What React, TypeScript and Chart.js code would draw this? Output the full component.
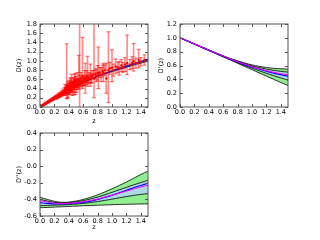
import React, { useEffect, useRef } from 'react';
import { Chart, registerables } from 'chart.js';
Chart.register(...registerables);
Chart.defaults.font.family = "'DejaVu Sans', sans-serif";

// ---- observed D(z) points with error bars ----
const zObs = [0.01,0.02,0.03,0.04,0.05,0.06,0.07,0.08,0.09,0.10,0.11,0.12,0.13,0.14,0.15,0.16,0.17,0.18,0.19,0.20,0.21,0.22,0.23,0.24,0.25,0.26,0.27,0.28,0.29,0.30,
  0.31,0.32,0.33,0.34,0.35,0.35,0.36,0.37,0.37,0.38,0.38,0.39,0.39,0.40,0.40,0.41,0.41,0.42,0.42,0.43,0.43,0.44,0.44,0.45,0.45,0.46,0.47,0.47,0.48,0.48,
  0.49,0.50,0.50,0.51,0.52,0.52,0.53,0.54,0.55,0.55,0.56,0.57,0.58,0.59,0.60,0.61,0.62,0.63,0.64,0.65,0.66,0.67,0.68,0.70,0.71,0.72,0.74,0.75,0.77,0.78,
  0.80,0.81,0.83,0.85,0.87,0.88,0.90,0.92,0.95,0.97,1.00,1.02,1.05,1.08,1.10,1.13,1.15,1.18,1.21,1.25,1.28,1.30,1.33,1.37,1.40,1.45];
const dObs = [0.010,0.020,0.028,0.040,0.048,0.058,0.070,0.078,0.088,0.098,0.108,0.118,0.125,0.138,0.145,0.158,0.163,0.178,0.180,0.195,0.200,0.215,0.210,0.228,0.238,0.255,0.245,0.268,0.275,0.300,
  0.285,0.330,0.300,0.360,0.310,0.400,0.340,0.450,0.380,0.300,0.420,0.360,0.470,0.400,0.330,0.450,0.380,0.520,0.360,0.420,0.480,0.400,0.550,0.440,0.380,0.500,0.450,0.540,0.420,0.580,
  0.500,0.470,0.550,0.440,0.520,0.600,0.480,0.560,0.500,0.580,0.520,0.620,0.550,0.660,0.580,0.540,0.630,0.600,0.580,0.660,0.620,0.600,0.640,0.680,0.620,0.660,0.700,0.620,0.720,0.680,
  0.740,0.720,0.750,0.700,0.780,0.740,0.800,0.620,0.800,0.840,0.850,0.800,0.880,0.860,0.840,0.900,0.860,0.920,0.950,0.920,0.960,1.000,0.950,1.020,0.980,1.020];
const dLow = [0.005,0.012,0.020,0.030,0.038,0.046,0.058,0.064,0.072,0.082,0.090,0.100,0.105,0.118,0.123,0.136,0.140,0.150,0.155,0.165,0.170,0.180,0.175,0.190,0.200,0.210,0.205,0.220,0.230,0.250,
  0.240,0.270,0.250,0.290,0.250,0.310,0.270,0.180,0.300,0.190,0.350,0.200,0.380,0.290,0.270,0.320,0.310,0.410,0.270,0.350,0.330,0.320,0.390,0.340,0.250,0.410,0.260,0.460,0.310,0.450,
  0.270,0.380,0.440,0.310,0.420,0.450,0.390,0.380,0.000,0.470,0.430,0.490,0.450,0.400,0.470,0.460,0.470,0.300,0.490,0.530,0.450,0.500,0.530,0.450,0.510,0.530,0.610,0.200,0.610,0.550,
  0.580,0.400,0.640,0.550,0.650,0.550,0.690,0.300,0.100,0.710,0.550,0.670,0.720,0.750,0.690,0.770,0.750,0.770,0.700,0.810,0.830,0.780,0.840,0.850,0.890,0.910];
const dHigh = [0.015,0.028,0.036,0.050,0.058,0.070,0.082,0.092,0.104,0.114,0.126,0.136,0.145,0.158,0.167,0.180,0.186,0.206,0.205,0.225,0.230,0.250,0.245,0.266,0.276,0.300,0.285,0.316,0.320,0.350,
  0.330,0.390,0.350,0.430,0.370,0.490,0.410,1.370,0.460,0.410,0.490,0.520,0.560,0.510,0.390,0.580,0.450,0.630,0.450,0.490,0.630,0.480,0.710,0.540,0.510,0.590,0.640,0.620,0.530,0.710,
  0.730,0.560,0.660,0.570,0.620,0.750,0.570,1.120,1.900,0.690,0.610,0.750,0.650,1.510,0.690,0.620,0.790,0.950,0.670,0.790,1.100,0.700,0.750,0.930,0.730,0.790,0.790,1.900,0.830,0.810,
  0.900,1.300,0.860,0.850,0.910,0.950,0.910,0.950,1.630,0.970,1.240,0.930,1.040,0.970,0.990,1.030,0.970,1.070,1.560,1.030,1.090,1.380,1.060,1.250,1.070,1.130];

// ---- reconstructed curves on a z grid ----
const zGrid = [0,0.1,0.2,0.3,0.4,0.5,0.6,0.7,0.8,0.9,1.0,1.1,1.2,1.3,1.4,1.5];
const dMean = [0,0.098,0.193,0.284,0.37,0.452,0.53,0.603,0.67,0.725,0.78,0.83,0.88,0.93,0.975,1.02];
const dHi = [0,0.098,0.194,0.285,0.372,0.454,0.533,0.607,0.675,0.731,0.788,0.84,0.892,0.944,0.992,1.04];
const dLo = [0,0.098,0.192,0.282,0.367,0.448,0.525,0.597,0.662,0.715,0.768,0.815,0.862,0.909,0.95,0.99];

const d1Mean = [1.0,0.956,0.911,0.866,0.821,0.777,0.733,0.691,0.65,0.61,0.58,0.548,0.518,0.49,0.467,0.447];
const d1True = [1.0,0.957,0.913,0.868,0.823,0.779,0.736,0.694,0.654,0.617,0.583,0.553,0.526,0.502,0.482,0.466];
const d1OutHi = [1.0,0.958,0.914,0.87,0.826,0.783,0.741,0.702,0.668,0.636,0.609,0.588,0.572,0.56,0.552,0.548];
const d1OutLo = [1.0,0.954,0.908,0.862,0.816,0.77,0.724,0.679,0.632,0.585,0.54,0.493,0.447,0.40,0.355,0.31];
const d1InHi = [1.0,0.957,0.912,0.868,0.824,0.78,0.737,0.696,0.66,0.625,0.595,0.57,0.548,0.53,0.515,0.505];
const d1InLo = [1.0,0.955,0.910,0.864,0.818,0.774,0.729,0.686,0.642,0.60,0.562,0.524,0.488,0.453,0.42,0.388];

const d2Mean = [-0.44,-0.448,-0.453,-0.455,-0.452,-0.444,-0.435,-0.42,-0.40,-0.375,-0.35,-0.32,-0.29,-0.26,-0.232,-0.205];
const d2True = [-0.415,-0.432,-0.445,-0.45,-0.448,-0.44,-0.428,-0.413,-0.395,-0.373,-0.35,-0.325,-0.30,-0.275,-0.25,-0.23];
const d2OutHi = [-0.375,-0.40,-0.422,-0.435,-0.432,-0.42,-0.40,-0.375,-0.345,-0.31,-0.272,-0.232,-0.19,-0.145,-0.10,-0.06];
const d2OutLo = [-0.50,-0.497,-0.493,-0.489,-0.485,-0.481,-0.477,-0.473,-0.47,-0.467,-0.464,-0.461,-0.459,-0.457,-0.455,-0.454];
const d2InHi = [-0.40,-0.42,-0.436,-0.443,-0.44,-0.43,-0.415,-0.395,-0.372,-0.345,-0.315,-0.285,-0.255,-0.225,-0.197,-0.17];
const d2InLo = [-0.475,-0.472,-0.469,-0.466,-0.462,-0.456,-0.448,-0.438,-0.426,-0.412,-0.397,-0.381,-0.366,-0.352,-0.34,-0.33];

const GREEN = '#90ee90';
const LIGHTBLUE = '#add8e6';
const FONT = 6.5;

const framePlugin = {
  id: 'frame',
  afterDatasetsDraw(chart: any) {
    const { ctx, chartArea: a, scales } = chart;
    ctx.save();
    ctx.strokeStyle = '#555';
    ctx.lineWidth = 1;
    ctx.strokeRect(a.left, a.top, a.right - a.left, a.bottom - a.top);
    ctx.beginPath();
    for (const t of scales.x.ticks) {
      const px = Math.round(scales.x.getPixelForValue(t.value)) + 0.5;
      ctx.moveTo(px, a.bottom); ctx.lineTo(px, a.bottom - 3);
      ctx.moveTo(px, a.top); ctx.lineTo(px, a.top + 3);
    }
    for (const t of scales.y.ticks) {
      const py = Math.round(scales.y.getPixelForValue(t.value)) + 0.5;
      ctx.moveTo(a.left, py); ctx.lineTo(a.left + 3, py);
      ctx.moveTo(a.right, py); ctx.lineTo(a.right - 3, py);
    }
    ctx.stroke();
    ctx.restore();
  },
};

function line(values: number[], color: string, width: number, order: number, extra: any = {}) {
  return {
    type: 'line',
    data: zGrid.map((z, i) => ({ x: z, y: values[i] })),
    borderColor: color,
    borderWidth: width,
    pointRadius: 0,
    tension: 0.4,
    fill: false,
    order,
    ...extra,
  };
}

function makeConfig(datasets: any[], p: any) {
  return {
    type: 'scatter',
    data: { datasets },
    plugins: [framePlugin],
    options: {
      animation: false,
      responsive: false,
      events: [],
      layout: { padding: p.pad },
      plugins: { legend: { display: false }, tooltip: { enabled: false } },
      scales: {
        x: {
          type: 'linear', min: 0, max: 1.5, offset: false,
          grid: { display: false, drawTicks: false, offset: false },
          border: { display: false },
          ticks: { stepSize: 0.2, includeBounds: false, padding: p.xTickPad, color: '#000', font: { size: FONT }, maxRotation: 0, autoSkip: false, callback: (v: any) => Number(v).toFixed(1) },
          title: { display: p.xTitle, text: 'z', color: '#000', font: { size: FONT }, padding: { top: 0, bottom: p.xTitlePad } },
          afterFit: (s: any) => { s.height = p.xH; },
        },
        y: {
          type: 'linear', min: p.yMin, max: p.yMax,
          grid: { display: false, drawTicks: false },
          border: { display: false },
          ticks: { stepSize: 0.2, includeBounds: false, padding: 3, color: '#000', font: { size: FONT }, autoSkip: false, callback: (v: any) => Number(v).toFixed(1) },
          title: { display: true, text: p.yTitle, color: '#000', font: { size: FONT }, padding: { top: p.yTitlePad, bottom: 0 } },
          afterFit: (s: any) => { s.width = p.yW; },
        },
      },
    },
  };
}

function bandSets(outHi: number[], outLo: number[], inHi: number[] | null, inLo: number[] | null, mean: number[], truth: number[] | null) {
  const sets: any[] = [
    line(outHi, '#000', 0.8, 20, { fill: '+1', backgroundColor: GREEN }),
    line(outLo, '#000', 0.8, 19),
  ];
  if (inHi && inLo) {
    sets.push(line(inHi, '#000', 0.8, 18, { fill: '+1', backgroundColor: LIGHTBLUE }));
    sets.push(line(inLo, '#000', 0.8, 17));
  }
  sets.push(line(mean, 'blue', 1.2, 16));
  if (truth) sets.push(line(truth, 'magenta', 1, 15));
  return sets;
}

function useChart(ref: React.RefObject<HTMLCanvasElement>, cfg: () => any) {
  useEffect(() => {
    if (!ref.current) return;
    const ch = new Chart(ref.current, cfg());
    return () => ch.destroy();
  }, []);
}

export default function App() {
  const r1 = useRef<HTMLCanvasElement>(null);
  const r2 = useRef<HTMLCanvasElement>(null);
  const r3 = useRef<HTMLCanvasElement>(null);

  useChart(r1, () => {
    const sets = bandSets(dHi, dLo, null, null, dMean, null);
    sets.push({
      type: 'bar',
      data: zObs.map((z, i) => ({ x: z, y: [dLow[i], dHigh[i]] })),
      backgroundColor: 'rgba(255,0,0,0.45)',
      borderWidth: 0,
      barThickness: 1,
      grouped: false,
      order: 3,
    });
    sets.push({
      type: 'scatter',
      data: zObs.map((z, i) => ({ x: z, y: dHigh[i] })).filter((q) => q.y <= 1.8),
      pointStyle: 'line', pointRadius: 2, borderColor: 'rgba(255,0,0,0.55)', borderWidth: 1, order: 2,
    });
    sets.push({
      type: 'scatter',
      data: zObs.map((z, i) => ({ x: z, y: dLow[i] })).filter((q) => q.y >= 0.01),
      pointStyle: 'line', pointRadius: 2, borderColor: 'rgba(255,0,0,0.55)', borderWidth: 1, order: 2,
    });
    sets.push({
      type: 'scatter',
      data: zObs.map((z, i) => ({ x: z, y: dObs[i] })),
      pointRadius: 1.2, backgroundColor: 'red', borderWidth: 0, order: 1,
    });
    return makeConfig(sets, { pad: { top: 24, right: 12, left: 0, bottom: 0 }, yMin: 0, yMax: 1.8, yTitle: 'D(z)', yW: 40, xH: 18, yTitlePad: 15, xTitlePad: 0, xTickPad: 1.5, xTitle: true });
  });

  useChart(r2, () => makeConfig(bandSets(d1OutHi, d1OutLo, d1InHi, d1InLo, d1Mean, d1True),
    { pad: { top: 24, right: 32, left: 0, bottom: 0 }, yMin: 0, yMax: 1.2, yTitle: "D'(z)", yW: 30, xH: 18, yTitlePad: 7, xTitlePad: 0, xTickPad: 1.5, xTitle: false }));

  useChart(r3, () => makeConfig(bandSets(d2OutHi, d2OutLo, d2InHi, d2InLo, d2Mean, d2True),
    { pad: { top: 13, right: 12, left: 0, bottom: 0 }, yMin: -0.6, yMax: 0.4, yTitle: "D''(z)", yW: 40, xH: 24, yTitlePad: 15, xTitlePad: 9, xTickPad: 1, xTitle: true }));

  return (
    <div style={{ position: 'fixed', left: 0, top: 0, width: 320, height: 240, background: '#fff' }}>
      <canvas ref={r1} width={160} height={125} style={{ position: 'absolute', left: 0, top: 0, width: 160, height: 125 }} />
      <canvas ref={r2} width={170} height={125} style={{ position: 'absolute', left: 150, top: 0, width: 170, height: 125 }} />
      <canvas ref={r3} width={160} height={120} style={{ position: 'absolute', left: 0, top: 120, width: 160, height: 120 }} />
    </div>
  );
}
